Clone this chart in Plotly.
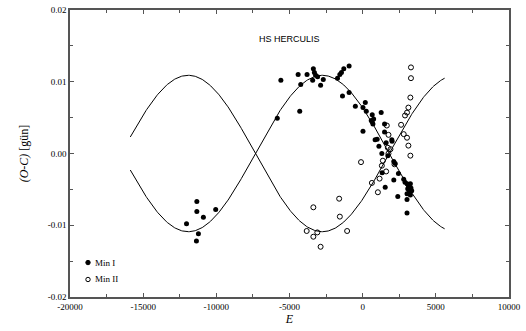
import numpy as np
import plotly.graph_objects as go

# ---- data ----
min1_E = [-11333, -11333, -10885, -10043, -12038, -11224, -11360,
          -5835, -5590, -4410, -3800, -4233, -4300,
          -3370, -3300, -3215, -3080, -3418, -2692, -2875,
          -1720, -1560, -1450, -1290, -927, -1380, -927,
          -500, 180, 22, 247, 654, 1265, 749, 654,
          22, 990, 1110, 2010,
          586, 700, 1495, 1495, 1990, 850, 1605, 1310, 1720, 2127, 2220, 1330,
          2445, 2127, 2805, 2895,
          3030, 3260, 3125, 3080, 3300, 3190, 3030, 3350, 3260,
          1540, 2400, 3030, 3030]
min1_OC = [-0.0067, -0.0081, -0.0089, -0.0078, -0.0098, -0.0112, -0.0122,
           0.0049, 0.0102, 0.0110, 0.0110, 0.0096, 0.0059,
           0.0118, 0.0113, 0.0109, 0.0107, 0.0102, 0.0103, 0.0095,
           0.0105, 0.0110, 0.0113, 0.0118, 0.0122, 0.0080, 0.0085,
           0.0066, 0.0071, 0.0064, 0.0059, 0.0054, 0.0057, 0.0048, 0.0044,
           0.0031, 0.0020, 0.0010, 0.0017,
           0.0046, 0.0041, 0.0041, 0.0030, 0.0019, 0.0019, 0.0015, 0.0000, -0.0003, -0.0011, -0.0014, -0.0027,
           -0.0028, -0.0037, -0.0036, -0.0040,
           -0.0042, -0.0042, -0.0045, -0.0049, -0.0048, -0.0053, -0.0056, -0.0052, -0.0058,
           -0.0047, -0.0060, -0.0064, -0.0083]

min2_E = [3300, 3300, 3260, 3125, 3030, 2895, 2625, 1650, 1765, 2805, 3030,
          1720, 3125, 3260, 1765, 1380, 1310, 1605, 1155, 630, 1040, 1900, 2175,
          -113, -3370, -1606, -1560, -3825, -3100, -3370, -1063, -2875]
min2_OC = [0.0120, 0.0105, 0.0078, 0.0064, 0.0057, 0.0053, 0.0040, 0.0039, 0.0026, 0.0027, 0.0022,
           0.0008, 0.0011, -0.0003, 0.0000, -0.0010, -0.0017, -0.0025, -0.0035, -0.0041, -0.0054, 0.0006, -0.0015,
           -0.0012, -0.0075, -0.0063, -0.0088, -0.0108, -0.0110, -0.0116, -0.0108, -0.0130]

# fitted sinusoid parameters
fit_amp = 0.0109
fit_period = 18320
fit_peak_E = -11920
fit_E_start = -15880
fit_E_end = 5600

x_tickvals = [-20000, -15000, -10000, -5000, 0, 5000, 10000]
x_ticktext = ["-20000", "-15000", "-10000", "-5000", "0", "5000", "10000"]
y_tickvals = [-0.02, -0.01, 0.0, 0.01, 0.02]
y_ticktext = ["-0.02", "-0.01", "0.00", "0.01", "0.02"]

legend_labels = ["Min I", "Min II"]

# ---- figure ----
fit_E = np.linspace(fit_E_start, fit_E_end, 400)
fit_A = fit_amp * np.cos(2 * np.pi * (fit_E - fit_peak_E) / fit_period)

serif = "Liberation Serif, Times New Roman, serif"
sans = "Liberation Sans, Arial, sans-serif"

fig = go.Figure()
fig.add_trace(go.Scatter(x=fit_E, y=fit_A, mode="lines",
                         line=dict(color="black", width=1), showlegend=False, hoverinfo="skip"))
fig.add_trace(go.Scatter(x=fit_E, y=-fit_A, mode="lines",
                         line=dict(color="black", width=1), showlegend=False, hoverinfo="skip"))
fig.add_trace(go.Scatter(x=min1_E, y=min1_OC, mode="markers", name=legend_labels[0],
                         marker=dict(symbol="circle", size=5, color="black"), showlegend=False))
fig.add_trace(go.Scatter(x=min2_E, y=min2_OC, mode="markers", name=legend_labels[1],
                         marker=dict(symbol="circle-open", size=5, color="black",
                                     line=dict(width=1, color="black")), showlegend=False))

axis_common = dict(showgrid=False, zeroline=False, showline=True, linecolor="#555555", linewidth=1.5,
                   mirror="allticks", ticks="inside", ticklen=4, tickcolor="#555555", tickwidth=1,
                   tickfont=dict(family=serif, size=9, color="black"))

fig.update_xaxes(range=[-20000, 10000], tickmode="array", tickvals=x_tickvals, ticktext=x_ticktext,
                 minor=dict(dtick=2500, tick0=0, ticks="inside", ticklen=3, tickcolor="#555555"),
                 title=dict(text="<i>E</i>", font=dict(family=serif, size=12, color="black"), standoff=1),
                 **axis_common)
fig.update_yaxes(range=[-0.02, 0.02], tickmode="array", tickvals=y_tickvals, ticktext=y_ticktext,
                 minor=dict(dtick=0.005, tick0=0, ticks="inside", ticklen=3, tickcolor="#555555"),
                 title=dict(text="<i>(O-C)</i> [gün]", font=dict(family=serif, size=12, color="black"), standoff=17),
                 **axis_common)

# legend drawn with shapes and annotations
leg_x = 0.041
leg_y = [0.12, 0.061]
fig.add_shape(type="circle", xref="paper", yref="paper", xsizemode="pixel", ysizemode="pixel",
              xanchor=leg_x, yanchor=leg_y[0], x0=-2.2, x1=2.2, y0=-2.2, y1=2.2,
              fillcolor="black", line=dict(color="black", width=1))
fig.add_shape(type="circle", xref="paper", yref="paper", xsizemode="pixel", ysizemode="pixel",
              xanchor=leg_x, yanchor=leg_y[1], x0=-2.2, x1=2.2, y0=-2.2, y1=2.2,
              fillcolor="white", line=dict(color="black", width=1))
for lab, yy in zip(legend_labels, leg_y):
    fig.add_annotation(text=lab, xref="paper", yref="paper", x=leg_x + 0.012, y=yy,
                       xanchor="left", yanchor="middle", showarrow=False,
                       font=dict(family=serif, size=9, color="black"))

fig.add_annotation(text="HS HERCULIS", xref="paper", yref="paper", x=0.5, y=0.9,
                   xanchor="center", yanchor="middle", showarrow=False,
                   font=dict(family=sans, size=9, color="black"))

fig.update_layout(width=526, height=331, margin=dict(l=70, r=14, t=5, b=34),
                  plot_bgcolor="white", paper_bgcolor="white", showlegend=False)

fig.write_html("out.html", config={"displayModeBar": False},
               post_script="document.body.style.margin='0px';document.body.style.padding='0px';")
